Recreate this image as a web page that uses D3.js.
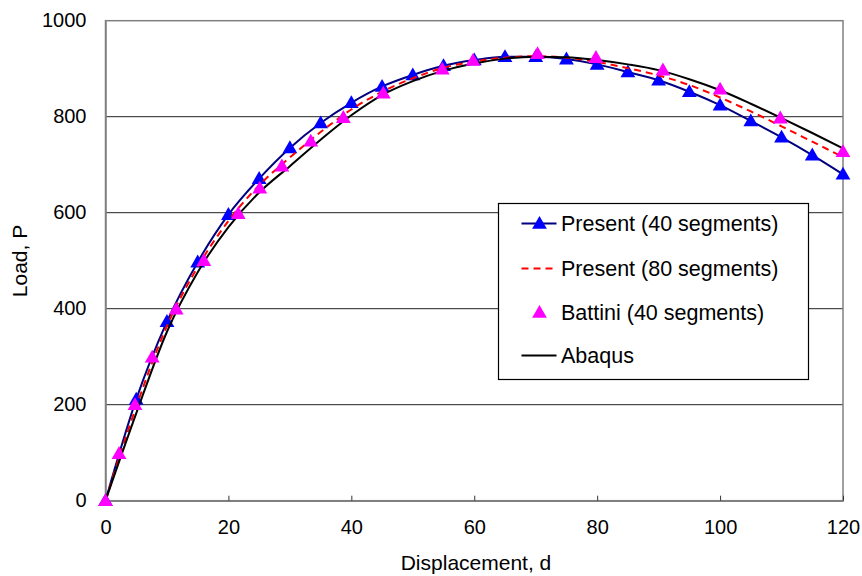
<!DOCTYPE html>
<meta charset='utf-8'>
<title>Load vs displacement</title>
<style>
html, body { margin: 0; padding: 0; background: #fff; }
text { font-family: 'Liberation Sans', Arial, sans-serif; fill: #000; }
</style>
<script src='https://d3js.org/d3.v7.min.js'></script>
<body>
<svg id='chart' width='862' height='576'></svg>
<script>
// Displacement steps shared by the three curve series
var dispSteps = [0, 5, 10, 15, 20, 25, 30, 35, 40, 45, 50, 55, 60, 65, 70, 75, 80, 85, 90, 95, 100, 105, 110, 115, 120];
var present40 = [0, 211, 373, 497, 596, 671, 735, 787, 829, 863, 887, 906, 918, 925, 925, 920, 909, 893, 876, 852, 824, 791, 757, 720, 680];
var present80 = [0, 196, 364, 487, 583, 657, 715, 768, 815, 852, 880, 902, 915, 923, 926, 923, 914, 901, 886, 866, 840, 811, 780, 748, 716];
var abaqus    = [0, 182, 352, 476, 570, 642, 697, 752, 803, 845, 874, 896, 911, 921, 925, 924, 918, 909, 897, 878, 855, 827, 797, 766, 734];

// Battini points (own displacement values)
var battiniD = [0, 2.2, 4.8, 7.6, 11.5, 16, 21.6, 25.1, 28.7, 33.4, 38.7, 45.2, 54.8, 59.8, 70.3, 79.8, 90.7, 100, 109.8, 120];
var battiniP = [0, 98, 200, 299, 399, 500, 598, 651, 697, 749, 798, 849, 899, 917, 931, 923, 897, 857, 797, 727];

var xTicks = [0, 20, 40, 60, 80, 100, 120];
var yTicks = [0, 200, 400, 600, 800, 1000];

var legendItems = ['Present (40 segments)', 'Present (80 segments)', 'Battini (40 segments)', 'Abaqus'];

// Colours
var navy = '#000080';
var blue = '#0000FF';
var red = '#FF0000';
var magenta = '#FF00FF';
var frameColor = '#808080';

// plot box (pixels)
var plotL = 105.5, plotR = 843, plotT = 20.7, plotB = 500.7;

var svg = d3.select('#chart');
var x = d3.scaleLinear().domain([0, 120]).range([plotL, plotR]);
var y = d3.scaleLinear().domain([0, 1000]).range([plotB, plotT]);

// Gridlines (inner ones dark, the 1000 one is the grey frame)
svg.append('g')
  .selectAll('line')
  .data(yTicks.filter(function (d) { return d > 0 && d < 1000; }))
  .enter().append('line')
  .attr('x1', plotL).attr('x2', plotR)
  .attr('y1', function (d) { return y(d); })
  .attr('y2', function (d) { return y(d); })
  .attr('stroke', '#222')
  .attr('stroke-width', 1);

// Plot frame
svg.append('rect')
  .attr('x', plotL).attr('y', plotT)
  .attr('width', plotR - plotL).attr('height', plotB - plotT)
  .attr('fill', 'none')
  .attr('stroke', frameColor)
  .attr('stroke-width', 1.5);

// X axis: ticks point inward
var xAxis = svg.append('g')
  .attr('transform', 'translate(0,' + plotB + ')')
  .call(d3.axisBottom(x).tickValues(xTicks).tickFormat(d3.format('d'))
    .tickSizeInner(-5).tickSizeOuter(0).tickPadding(19));
xAxis.select('.domain').attr('stroke', frameColor).attr('stroke-width', 1.5);
xAxis.selectAll('.tick line').attr('stroke', '#333');
xAxis.selectAll('.tick text')
  .attr('font-size', '20px')
  .attr('font-family', "'Liberation Sans', Arial, sans-serif")
  .attr('fill', '#000');

var yAxis = svg.append('g')
  .attr('transform', 'translate(' + plotL + ',0)')
  .call(d3.axisLeft(y).tickValues(yTicks).tickFormat(d3.format('d'))
    .tickSize(0).tickPadding(19));
yAxis.select('.domain').attr('stroke', frameColor).attr('stroke-width', 1.5);
yAxis.selectAll('.tick text')
  .attr('font-size', '20px')
  .attr('font-family', "'Liberation Sans', Arial, sans-serif")
  .attr('fill', '#000')
  .attr('dy', '0.28em');

// Axis titles
svg.append('text')
  .attr('x', 476).attr('y', 570)
  .attr('text-anchor', 'middle')
  .attr('font-size', '21px')
  .text('Displacement, d');

svg.append('text')
  .attr('transform', 'translate(27,261)rotate(-90)')
  .attr('text-anchor', 'middle')
  .attr('font-size', '21px')
  .text('Load, P');

var line = d3.line()
  .x(function (d) { return x(d[0]); })
  .y(function (d) { return y(d[1]); })
  .curve(d3.curveMonotoneX);

function pairs(xs, ys) {
  return xs.map(function (v, i) { return [v, ys[i]]; });
}

var tri = d3.symbol().type(d3.symbolTriangle).size(95);

// Present 40 line + markers
svg.append('path')
  .attr('d', line(pairs(dispSteps, present40)))
  .attr('fill', 'none').attr('stroke', navy).attr('stroke-width', 2);

svg.append('g')
  .selectAll('path')
  .data(pairs(dispSteps, present40))
  .enter().append('path')
  .attr('d', tri)
  .attr('transform', function (d) { return 'translate(' + x(d[0]) + ',' + (y(d[1]) + 1) + ')'; })
  .attr('fill', blue);

// Present 80 dashed
svg.append('path')
  .attr('d', line(pairs(dispSteps, present80)))
  .attr('fill', 'none').attr('stroke', red).attr('stroke-width', 2)
  .attr('stroke-dasharray', '7,5');

// Abaqus
svg.append('path')
  .attr('d', line(pairs(dispSteps, abaqus)))
  .attr('fill', 'none').attr('stroke', '#000').attr('stroke-width', 2);

// Battini markers
svg.append('g')
  .selectAll('path')
  .data(pairs(battiniD, battiniP))
  .enter().append('path')
  .attr('d', tri)
  .attr('transform', function (d) { return 'translate(' + x(d[0]) + ',' + (y(d[1]) + 1) + ')'; })
  .attr('fill', magenta);

// Legend
var lg = svg.append('g').attr('transform', 'translate(498.5,203.5)');
lg.append('rect')
  .attr('width', 310).attr('height', 176)
  .attr('fill', '#fff').attr('stroke', '#000').attr('stroke-width', 1.2);

var rowY = [20, 65, 109, 152];
var rows = lg.selectAll('g.row')
  .data(legendItems)
  .enter().append('g')
  .attr('class', 'row')
  .attr('transform', function (d, i) { return 'translate(0,' + rowY[i] + ')'; });

rows.append('text')
  .attr('x', 62.5).attr('dy', '0.35em')
  .attr('font-size', '21.5px')
  .text(function (d) { return d; });

// Row samples
rows.filter(function (d, i) { return i === 0; })
  .append('line').attr('x1', 23).attr('x2', 58)
  .attr('stroke', navy).attr('stroke-width', 2);
rows.filter(function (d, i) { return i === 0; })
  .append('path').attr('d', tri).attr('transform', 'translate(41,1)').attr('fill', blue);
rows.filter(function (d, i) { return i === 1; })
  .append('line').attr('x1', 23).attr('x2', 58)
  .attr('stroke', red).attr('stroke-width', 2).attr('stroke-dasharray', '7,5');
rows.filter(function (d, i) { return i === 2; })
  .append('path').attr('d', tri).attr('transform', 'translate(41,1)').attr('fill', magenta);
rows.filter(function (d, i) { return i === 3; })
  .append('line').attr('x1', 23).attr('x2', 58)
  .attr('stroke', '#000').attr('stroke-width', 2);
</script>
</body>
